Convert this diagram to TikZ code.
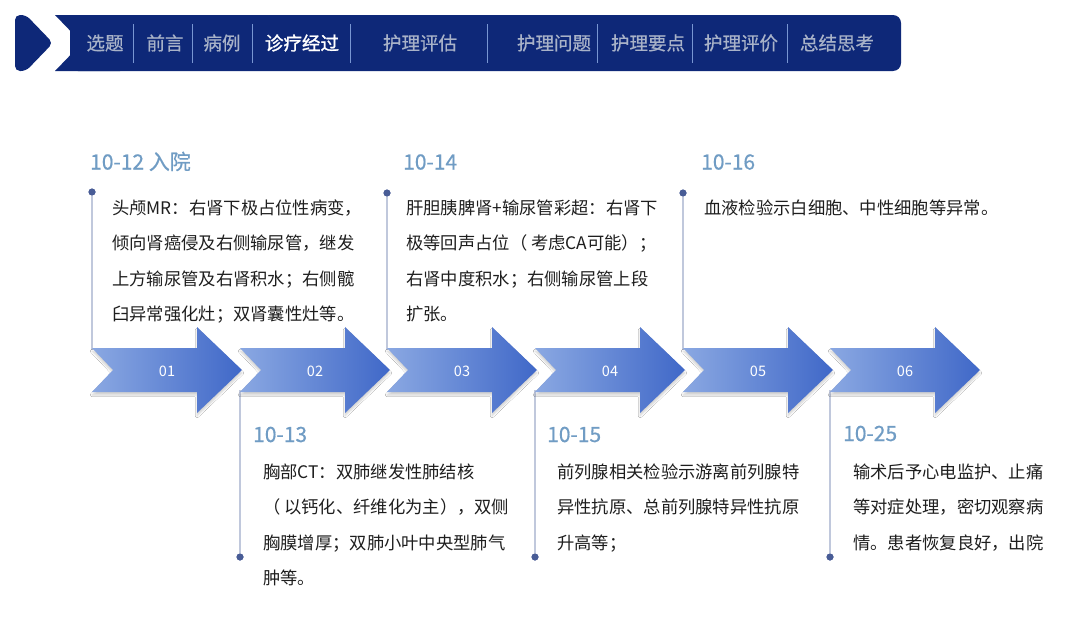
\documentclass[tikz,border=0pt]{standalone}
\usepackage{fontspec}
\newfontfamily\cjk{Noto Sans CJK SC}
\newfontfamily\cjkmed[FakeBold=0.6]{Noto Sans CJK SC}
\newfontfamily\cjkbold[FakeBold=1.5]{Noto Sans CJK SC}
\usetikzlibrary{shadows.blur}
\definecolor{navy}{RGB}{14,40,120}
\definecolor{divcol}{RGB}{120,150,210}
\definecolor{headtxt}{RGB}{168,178,200}
\definecolor{datecol}{RGB}{112,156,196}
\definecolor{bodytxt}{RGB}{30,30,30}
\definecolor{linecol}{RGB}{192,200,220}
\definecolor{dotcol}{RGB}{72,92,150}
\definecolor{arrL}{RGB}{138,168,226}
\definecolor{arrR}{RGB}{64,104,200}
\tikzset{
  headlbl/.style={text=headtxt, font=\cjkmed\fontsize{18.5}{20}\selectfont, inner sep=0pt},
  headsel/.style={text=white, font=\cjkbold\fontsize{18.5}{20}\selectfont, inner sep=0pt},
  divider/.style={draw=divcol, line width=0.9pt},
  arrowfill/.style={left color=arrL, right color=arrR,
     blur shadow={shadow blur steps=6, shadow xshift=0pt, shadow yshift=-3pt, shadow opacity=18}},
  num/.style={text=white, font=\cjk\fontsize{14.5}{16}\selectfont, inner sep=0pt},
  date/.style={text=datecol, font=\cjkmed\fontsize{21}{24}\selectfont, inner sep=0pt, anchor=base west},
  body/.style={text=bodytxt, font=\cjk\fontsize{17.3}{20}\selectfont, inner sep=0pt, anchor=base west},
  tline/.style={draw=linecol, line width=1.2pt},
  tdot/.style={circle, fill=dotcol, minimum size=7pt, inner sep=0pt}
}
\begin{document}
\begin{tikzpicture}[x=1pt,y=-1pt]
\useasboundingbox (0,0) rectangle (1080,621);
\fill[white] (0,0) rectangle (1080,621);

% header
\fill[navy, rounded corners=5] (15,15) -- (26,15) -- (53,43) -- (26,71) -- (15,71) -- cycle;
\fill[navy, rounded corners=8] (70,15) rectangle (901,71);
\fill[navy] (55,15) -- (120,15) -- (120,71) -- (55,71) -- (82,43) -- cycle;
\foreach \x in {133,192,252,350,487,597,692,787} \draw[divider] (\x,24) -- (\x,63);
\node[headlbl] (h1) at (105,43) {选题};
\node[headlbl] (h2) at (165,43) {前言};
\node[headlbl] (h3) at (222,43) {病例};
\node[headsel] (h4) at (302,43) {诊疗经过};
\node[headlbl] (h5) at (420,43) {护理评估};
\node[headlbl] (h6) at (554,43) {护理问题};
\node[headlbl] (h7) at (648,43) {护理要点};
\node[headlbl] (h8) at (741,43) {护理评价};
\node[headlbl] (h9) at (837,43) {总结思考};

% timeline lines and dots
\node[tdot] (d1) at (92,192) {};
\node[tdot] (d3) at (387,193) {};
\node[tdot] (d5) at (683,193) {};
\node[tdot] (d2) at (240,557) {};
\node[tdot] (d4) at (535,557) {};
\node[tdot] (d6) at (830,557) {};
\coordinate (t1) at (92,350);
\coordinate (t3) at (387,350);
\coordinate (t5) at (683,350);
\coordinate (b2) at (240,390);
\coordinate (b4) at (535,390);
\coordinate (b6) at (830,390);
\draw[tline] (d1.center) -- (t1);
\draw[tline] (d3.center) -- (t3);
\draw[tline] (d5.center) -- (t5);
\draw[tline] (d2.center) -- (b2);
\draw[tline] (d4.center) -- (b4);
\draw[tline] (d6.center) -- (b6);
\node[tdot] at (d1) {};
\node[tdot] at (d3) {};
\node[tdot] at (d5) {};
\node[tdot] at (d2) {};
\node[tdot] at (d4) {};
\node[tdot] at (d6) {};

% arrows
\foreach \x [count=\i] in {92,240,387,535,683,830} {
  \path[arrowfill] (\x,348) -- ++(105,0) -- ++(0,-21) -- ++(45,43) -- ++(-45,43)
     -- ++(0,-21) -- ++(-105,0) -- ++(21,-22) -- cycle;
  \node[num] (n\i) at (\x+75,371) {0\i};
}

% dates
\node[date] (date1) at (90,169.5) {10-12 入院};
\node[date] (date3) at (403,169.5) {10-14};
\node[date] (date5) at (701,169.5) {10-16};
\node[date] (date2) at (253,442) {10-13};
\node[date] (date4) at (547,442) {10-15};
\node[date] (date6) at (843,441) {10-25};

% body texts
\foreach \t [count=\i] in {{头颅MR：右肾下极占位性病变，},{倾向肾癌侵及右侧输尿管，继发},{上方输尿管及右肾积水；右侧髋},{臼异常强化灶；双肾囊性灶等。}}
  \node[body] (c1l\i) at (112,{214.5+35.3*(\i-1)}) {\t};
\foreach \t [count=\i] in {{肝胆胰脾肾+输尿管彩超：右肾下},{极等回声占位（ 考虑CA可能）；},{右肾中度积水；右侧输尿管上段},{扩张。}}
  \node[body] (c3l\i) at (406,{214.5+35.3*(\i-1)}) {\t};
\node[body] (c5l1) at (704,214.5) {血液检验示白细胞、中性细胞等异常。};
\foreach \t [count=\i] in {{胸部CT：双肺继发性肺结核},{（ 以钙化、纤维化为主），双侧},{胸膜增厚；双肺小叶中央型肺气},{肿等。}}
  \node[body] (c2l\i) at (263,{478.5+35.3*(\i-1)}) {\t};
\foreach \t [count=\i] in {{前列腺相关检验示游离前列腺特},{异性抗原、总前列腺特异性抗原},{升高等；}}
  \node[body] (c4l\i) at (557,{478.5+35.3*(\i-1)}) {\t};
\foreach \t [count=\i] in {{输术后予心电监护、止痛},{等对症处理，密切观察病},{情。患者恢复良好，出院}}
  \node[body] (c6l\i) at (853,{478.5+35.3*(\i-1)}) {\t};
\end{tikzpicture}
\end{document}
